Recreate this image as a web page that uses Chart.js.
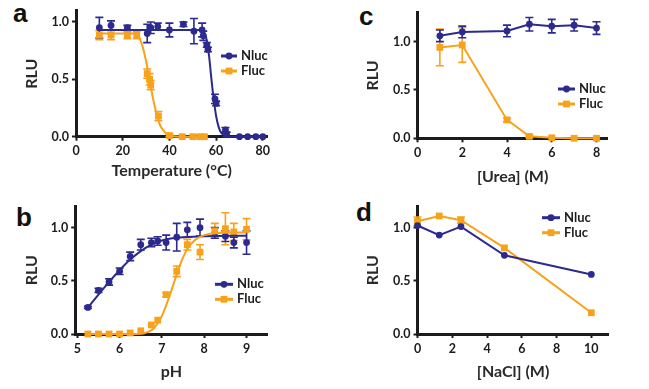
<!DOCTYPE html>
<html>
<head>
<meta charset="utf-8">
<script src="https://cdn.jsdelivr.net/npm/chart.js@4.4.1/dist/chart.umd.min.js"></script>
<style>
  body { margin: 0; background: #fff; width: 649px; height: 389px; position: relative; overflow: hidden; }
  .panel { position: absolute; }
  .tag { position: absolute; font: bold 26px Arial, "Liberation Sans", sans-serif; color: #111; line-height: 1; }
</style>
</head>
<body>
<div class="tag" style="left:13px;top:0px">a</div>
<div class="tag" style="left:16px;top:204px">b</div>
<div class="tag" style="left:359px;top:3px">c</div>
<div class="tag" style="left:356px;top:199px">d</div>

<div class="panel" style="left:0;top:0"><canvas id="chartA" width="300" height="190"></canvas></div>
<div class="panel" style="left:0;top:195px"><canvas id="chartB" width="300" height="194"></canvas></div>
<div class="panel" style="left:330px;top:0"><canvas id="chartC" width="300" height="190"></canvas></div>
<div class="panel" style="left:330px;top:195px"><canvas id="chartD" width="300" height="194"></canvas></div>

<script>
// ---- data ----
const seriesNames = ['Nluc', 'Fluc'];

// a: temperature
const tempNluc = [10, 15, 22, 30.5, 32, 35, 40, 46, 50.5, 54, 54.5, 56, 56.5, 59.5, 60, 64, 64.5, 70, 73.5, 77, 80];
const rluTempNluc = [0.95, 0.97, 0.95, 0.9, 0.95, 0.96, 0.93, 0.98, 0.92, 0.93, 0.88, 0.80, 0.76, 0.33, 0.29, 0.06, 0.02, 0, 0, 0, 0];
const errTempNluc = [0.09, 0.04, 0.02, 0.08, 0.05, 0.03, 0.06, 0.02, 0.11, 0.06, 0.04, 0.02, 0.02, 0.04, 0.02, 0.02, 0.02, 0, 0, 0, 0];
const tempFluc = [10, 15, 22, 26, 30.5, 31.5, 32, 35.3, 40, 45.5, 50, 53, 55];
const rluTempFluc = [0.885, 0.885, 0.885, 0.885, 0.55, 0.50, 0.45, 0.18, 0.01, 0, 0, 0, 0];
const errTempFluc = [0.04, 0.04, 0.03, 0.03, 0.04, 0.05, 0.04, 0.04, 0.01, 0, 0, 0, 0];
// fitted curves, read at a few temperatures
const fitTempNlucX = [10, 54, 55, 56, 57, 58, 59, 60, 61, 62, 64, 66, 80];
const fitTempNlucY = [0.93, 0.93, 0.91, 0.84, 0.7, 0.5, 0.32, 0.18, 0.09, 0.04, 0.01, 0, 0];
const fitTempFlucX = [10, 24, 26, 28, 30, 31, 32, 33, 34, 35, 36, 38, 40, 45, 55];
const fitTempFlucY = [0.9, 0.9, 0.89, 0.82, 0.66, 0.55, 0.44, 0.33, 0.24, 0.16, 0.1, 0.04, 0.01, 0, 0];
const tempTicks = [0, 20, 40, 60, 80];

// b: pH
const pH = [5.25, 5.5, 5.75, 6.0, 6.25, 6.5, 6.75, 6.9, 7.1, 7.35, 7.6, 7.9, 8.25, 8.5, 8.7, 9.0];
const rluPhNluc = [0.25, 0.41, 0.49, 0.59, 0.73, 0.84, 0.86, 0.875, 0.86, 0.91, 0.98, 1.0, 0.95, 0.92, 0.86, 0.86];
const errPhNluc = [0.01, 0.02, 0.03, 0.03, 0.04, 0.05, 0.04, 0.04, 0.07, 0.13, 0.07, 0.08, 0.05, 0.05, 0.05, 0.11];
const rluPhFluc = [0, 0, 0, 0, 0.01, 0.03, 0.085, 0.13, 0.37, 0.59, 0.84, 0.77, 0.97, 0.99, 0.96, 0.985];
const errPhFluc = [0, 0, 0, 0, 0, 0, 0, 0, 0.02, 0.05, 0.05, 0.07, 0.07, 0.15, 0.08, 0.1];
const fitPhNlucX = [5.25, 5.5, 5.75, 6.0, 6.25, 6.5, 6.75, 7.0, 7.25, 7.5, 8.0, 9.0];
const fitPhNlucY = [0.25, 0.37, 0.49, 0.6, 0.7, 0.78, 0.84, 0.88, 0.9, 0.91, 0.92, 0.925];
const fitPhFlucX = [5.25, 6.4, 6.6, 6.8, 7.0, 7.1, 7.2, 7.3, 7.4, 7.5, 7.6, 7.8, 8.0, 8.3, 9.0];
const fitPhFlucY = [0, 0, 0.01, 0.05, 0.17, 0.27, 0.38, 0.5, 0.62, 0.72, 0.8, 0.89, 0.93, 0.95, 0.955];
const phTicks = [5, 6, 7, 8, 9];

// c: urea
const urea = [1, 2, 4, 5, 6, 7, 8];
const rluUreaNluc = [1.06, 1.10, 1.11, 1.18, 1.16, 1.17, 1.14];
const errUreaNluc = [0.06, 0.06, 0.06, 0.07, 0.07, 0.06, 0.065];
const rluUreaFluc = [0.94, 0.965, 0.19, 0.02, 0.005, 0, 0];
const errUreaFluc = [0.19, 0.18, 0.02, 0.01, 0, 0, 0];
const ureaTicks = [0, 2, 4, 6, 8];

// d: NaCl
const nacl = [0, 1.25, 2.5, 5, 10];
const rluNaclNluc = [1.02, 0.93, 1.01, 0.74, 0.56];
const rluNaclFluc = [1.06, 1.11, 1.07, 0.81, 0.20];
const errNaclFluc = [0.04, 0, 0.03, 0, 0];
const naclTicks = [0, 2, 4, 6, 8, 10];

const rluTicks = [0, 0.5, 1.0];

// ---- styling ----
const NAVY = '#2d2a8e';
const ORANGE = '#f8a21c';
const INK = '#1c1c1c';
const FONT = 'Lato, "Open Sans", sans-serif';

const pts = (xs, ys) => xs.map((x, i) => ({ x: x, y: ys[i] }));

function marks(label, xs, ys, errs, color, style, line) {
  return {
    label: label,
    data: pts(xs, ys),
    errors: errs,
    showLine: !!line,
    borderColor: color,
    backgroundColor: color,
    borderWidth: 2,
    tension: 0,
    pointStyle: style,
    pointRadius: style === 'rect' ? 4.8 : 3.4,
    pointBackgroundColor: color,
    pointBorderWidth: 0,
    clip: false
  };
}

function fit(xs, ys, color) {
  return {
    data: pts(xs, ys),
    borderColor: color,
    borderWidth: 2,
    pointRadius: 0,
    cubicInterpolationMode: 'monotone',
    clip: false
  };
}

// vertical error bars with caps, placed through the chart scales
const errorBars = {
  id: 'errorBars',
  beforeDatasetsDraw(chart) {
    const { ctx, scales: { x, y } } = chart;
    chart.data.datasets.forEach(ds => {
      if (!ds.errors) return;
      ctx.save();
      ctx.strokeStyle = ds.borderColor;
      ctx.lineWidth = 1.6;
      ds.data.forEach((p, i) => {
        const e = ds.errors[i];
        if (!e) return;
        const px = x.getPixelForValue(p.x);
        const lo = y.getPixelForValue(p.y - e), hi = y.getPixelForValue(p.y + e);
        ctx.beginPath();
        ctx.moveTo(px, lo); ctx.lineTo(px, hi);
        ctx.moveTo(px - 4, lo); ctx.lineTo(px + 4, lo);
        ctx.moveTo(px - 4, hi); ctx.lineTo(px + 4, hi);
        ctx.stroke();
      });
      ctx.restore();
    });
  }
};

// small GraphPad-style legend: line with marker, then name
const miniLegend = {
  id: 'miniLegend',
  afterDraw(chart, args, o) {
    const ctx = chart.ctx;
    const items = [
      { label: seriesNames[0], color: NAVY, style: 'circle', r: 3.4 },
      { label: seriesNames[1], color: ORANGE, style: 'rect', r: 4.8 }
    ];
    items.forEach((it, i) => {
      const y = o.y + i * o.gap;
      ctx.save();
      ctx.strokeStyle = it.color;
      ctx.fillStyle = it.color;
      ctx.lineWidth = 3;
      ctx.beginPath();
      ctx.moveTo(o.x, y); ctx.lineTo(o.x + o.len, y);
      ctx.stroke();
      Chart.helpers.drawPoint(ctx, { pointStyle: it.style, radius: it.r, borderWidth: 0, rotation: 0 }, o.x + o.len / 2, y);
      ctx.fillStyle = INK;
      ctx.font = 'bold 13px ' + FONT;
      ctx.textBaseline = 'middle';
      ctx.fillText(it.label, o.x + o.len + 4, y);
      ctx.restore();
    });
  }
};

function axis(min, max, ticks, title, size, titlePad, fmt) {
  return {
    type: 'linear',
    min: min,
    max: max,
    afterBuildTicks: s => { s.ticks = ticks.map(v => ({ value: v })); },
    afterFit: s => { if (s.isHorizontal()) s.height = size; else s.width = size; },
    grid: { drawOnChartArea: false, drawTicks: true, tickLength: 4, tickWidth: 2, tickColor: INK },
    border: { color: INK, width: 3 },
    ticks: {
      color: INK, padding: 3, maxRotation: 0, autoSkip: false,
      font: { family: FONT, weight: 'bold', size: 12.5 },
      callback: fmt
    },
    title: {
      display: true, text: title, color: '#2a2a2a',
      font: { family: FONT, weight: 'bold', size: 16 },
      padding: titlePad
    }
  };
}

function panel(id, p) {
  return new Chart(document.getElementById(id), {
    type: 'line',
    data: { datasets: p.datasets },
    options: {
      responsive: false,
      animation: false,
      events: [],
      layout: { padding: { top: p.top, right: p.right, left: 0, bottom: 0 } },
      plugins: { legend: { display: false }, tooltip: { enabled: false }, miniLegend: p.legend },
      scales: {
        x: axis(p.xMin, p.xMax, p.xTicks, p.xTitle, p.xSize, { top: 0, bottom: p.xTitlePad }, v => String(v)),
        y: axis(0, p.yMax, rluTicks, 'RLU', p.ySize, { top: p.yTitlePad, bottom: 0 }, v => v.toFixed(1))
      }
    },
    plugins: [errorBars, miniLegend]
  });
}

panel('chartA', {
  datasets: [
    fit(fitTempFlucX, fitTempFlucY, ORANGE),
    fit(fitTempNlucX, fitTempNlucY, NAVY),
    marks(seriesNames[1], tempFluc, rluTempFluc, errTempFluc, ORANGE, 'rect', false),
    marks(seriesNames[0], tempNluc, rluTempNluc, errTempNluc, NAVY, 'circle', false)
  ],
  xMin: 0, xMax: 82, xTicks: tempTicks, xTitle: 'Temperature (°C)', yMax: 1.1,
  top: 9, right: 32.5, ySize: 76, xSize: 53.3, xTitlePad: 10, yTitlePad: 22,
  legend: { x: 221, y: 56, gap: 15, len: 16 }
});

panel('chartB', {
  datasets: [
    fit(fitPhFlucX, fitPhFlucY, ORANGE),
    fit(fitPhNlucX, fitPhNlucY, NAVY),
    marks(seriesNames[1], pH, rluPhFluc, errPhFluc, ORANGE, 'rect', false),
    marks(seriesNames[0], pH, rluPhNluc, errPhNluc, NAVY, 'circle', false)
  ],
  xMin: 4.95, xMax: 9.5, xTicks: phTicks, xTitle: 'pH', yMax: 1.2,
  top: 11.4, right: 32.3, ySize: 75.2, xSize: 55, xTitlePad: 8, yTitlePad: 22,
  legend: { x: 215, y: 89.3, gap: 15, len: 18 }
});

panel('chartC', {
  datasets: [
    marks(seriesNames[1], urea, rluUreaFluc, errUreaFluc, ORANGE, 'rect', true),
    marks(seriesNames[0], urea, rluUreaNluc, errUreaNluc, NAVY, 'circle', true)
  ],
  xMin: 0, xMax: 8.5, xTicks: ureaTicks, xTitle: '[Urea] (M)', yMax: 1.3,
  top: 12.6, right: 22.3, ySize: 87.5, xSize: 51.7, xTitlePad: 3.5, yTitlePad: 33,
  legend: { x: 228, y: 89, gap: 15, len: 17 }
});

panel('chartD', {
  datasets: [
    marks(seriesNames[0], nacl, rluNaclNluc, null, NAVY, 'circle', true),
    marks(seriesNames[1], nacl, rluNaclFluc, errNaclFluc, ORANGE, 'rect', true)
  ],
  xMin: 0, xMax: 11, xTicks: naclTicks, xTitle: '[NaCl] (M)', yMax: 1.2,
  top: 11.4, right: 21.3, ySize: 87.5, xSize: 55, xTitlePad: 7.5, yTitlePad: 33,
  legend: { x: 212, y: 22.7, gap: 15, len: 18 }
});
</script>
</body>
</html>
